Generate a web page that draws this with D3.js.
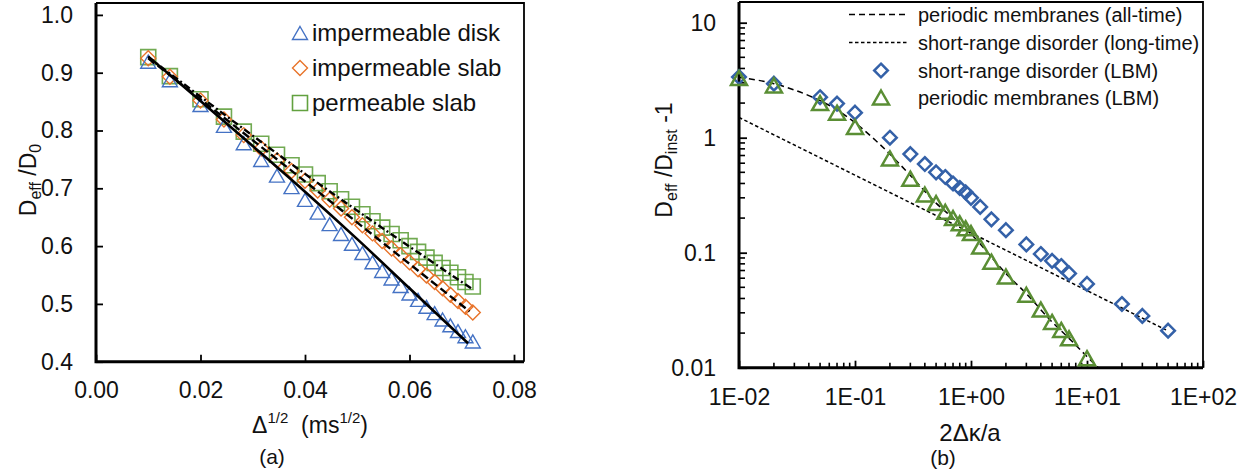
<!DOCTYPE html>
<html>
<head>
<meta charset="utf-8">
<script src="https://cdn.jsdelivr.net/npm/d3@7"></script>
<style>
  html, body { margin: 0; padding: 0; background: #fff; }
  svg { display: block; }
  text { font-family: "Liberation Sans", Arial, sans-serif; fill: #111; }
</style>
</head>
<body>
<svg id="chart" width="1255" height="473"></svg>
<script>
// ---------------- Panel (a) data ----------------
const sqrtDelta = [0.01, 0.01414, 0.02, 0.02449, 0.02828, 0.03162, 0.03464, 0.03742, 0.04,
  0.04243, 0.04472, 0.0469, 0.04899, 0.05099, 0.05292, 0.05477, 0.05657, 0.05831, 0.06,
  0.06164, 0.06325, 0.06481, 0.06633, 0.06782, 0.06928, 0.07071, 0.07211];
const diskY = [0.919, 0.887, 0.844, 0.808, 0.778, 0.749, 0.722, 0.702, 0.680,
  0.658, 0.638, 0.621, 0.604, 0.588, 0.572, 0.557, 0.544, 0.531, 0.518,
  0.507, 0.495, 0.484, 0.473, 0.463, 0.453, 0.444, 0.435];
const slabY = [0.925, 0.893, 0.852, 0.819, 0.792, 0.769, 0.748, 0.730, 0.713,
  0.696, 0.680, 0.665, 0.650, 0.636, 0.622, 0.609, 0.596, 0.584, 0.572,
  0.560, 0.549, 0.538, 0.527, 0.516, 0.505, 0.495, 0.485];
const permY = [0.927, 0.894, 0.854, 0.824, 0.798, 0.777, 0.758, 0.740, 0.724,
  0.709, 0.695, 0.681, 0.668, 0.655, 0.643, 0.632, 0.621, 0.610, 0.600,
  0.590, 0.580, 0.571, 0.562, 0.554, 0.546, 0.538, 0.530];
// model curves (a)
const diskFitX = [0.01, 0.02, 0.03, 0.04, 0.05, 0.06, 0.0712];
const diskFitY = [0.928, 0.851, 0.773, 0.694, 0.612, 0.527, 0.432];
const slabFitX = [0.01, 0.04, 0.0715];
const slabFitY = [0.925, 0.712, 0.487];
const permFitX = [0.01, 0.04, 0.0718];
const permFitY = [0.927, 0.725, 0.527];
const xTicksA = [0, 0.02, 0.04, 0.06, 0.08];
const yTicksA = [0.4, 0.5, 0.6, 0.7, 0.8, 0.9, 1.0];
const legendA = ["impermeable disk", "impermeable slab", "permeable slab"];

// ---------------- Panel (b) data ----------------
const srdX = [0.01, 0.02, 0.05, 0.07, 0.1, 0.2, 0.3, 0.4, 0.5, 0.6, 0.7, 0.8, 0.9, 1.0, 1.2, 1.5,
  2, 3, 4, 5, 6, 7, 10, 20, 30, 50];
const srdY = [3.37, 2.95, 2.25, 1.98, 1.65, 1.0, 0.72, 0.59, 0.50, 0.455, 0.40, 0.365, 0.335, 0.30,
  0.25, 0.195, 0.157, 0.118, 0.0975, 0.085, 0.0766, 0.066, 0.0535, 0.0358, 0.0282, 0.021];
const pmX = [0.01, 0.02, 0.05, 0.07, 0.1, 0.2, 0.3, 0.4, 0.5, 0.6, 0.7, 0.8, 0.9, 1.0, 1.2, 1.5,
  2, 3, 4, 5, 6, 7, 10];
const pmY = [3.3, 2.85, 2.0, 1.65, 1.24, 0.66, 0.44, 0.32, 0.27, 0.227, 0.2, 0.18, 0.163, 0.148,
  0.113, 0.0835, 0.062, 0.043, 0.032, 0.025, 0.0213, 0.018, 0.0121];
const pmCurveX = [0.01, 0.02, 0.03, 0.05, 0.07, 0.1, 0.15, 0.2, 0.3, 0.5, 0.7, 1, 2, 3, 5, 7, 10, 12.5];
const pmCurveY = [3.35, 2.95, 2.6, 2.1, 1.75, 1.35, 0.95, 0.72, 0.47, 0.27, 0.2, 0.145, 0.066, 0.044,
  0.025, 0.018, 0.0125, 0.01];
const srCurveX = [0.01, 48];
const srCurveY = [1.5, 0.0213];
const xTicksB = [0.01, 0.1, 1, 10, 100];
const xTickLabelsB = ["1E-02", "1E-01", "1E+00", "1E+01", "1E+02"];
const yTicksB = [0.01, 0.1, 1, 10];
const yTickLabelsB = ["0.01", "0.1", "1", "10"];
const legendB = ["periodic membranes (all-time)", "short-range disorder (long-time)",
  "short-range disorder (LBM)", "periodic membranes (LBM)"];

const svg = d3.select("#chart");
svg.append("rect").attr("width", 1255).attr("height", 473).attr("fill", "#fff");

function triPath(w, h) { return `M0,${-h/2}L${w/2},${h/2}L${-w/2},${h/2}Z`; }
function diaPath(s) { return `M0,${-s}L${s},0L0,${s}L${-s},0Z`; }
function sqPath(s) { return `M${-s},${-s}H${s}V${s}H${-s}Z`; }

// ================= Panel (a) =================
const A = { l: 96, r: 524, t: 3, b: 361.7 };
const xA = d3.scaleLinear().domain([0, 0.08]).range([96, 514]);
const yA = d3.scaleLinear().domain([0.4, 1.0]).range([361.7, 14.9]);
const gA = svg.append("g");

const axA_y = gA.append("g").attr("transform", `translate(${A.l},0)`)
  .call(d3.axisLeft(yA).tickValues(yTicksA).tickFormat(d3.format(".1f"))
    .tickSizeInner(-7).tickSizeOuter(0).tickPadding(23));
const axA_x = gA.append("g").attr("transform", `translate(0,${A.b})`)
  .call(d3.axisBottom(xA).tickValues(xTicksA).tickFormat(d3.format(".2f"))
    .tickSizeInner(-7).tickSizeOuter(0).tickPadding(20));
[axA_y, axA_x].forEach(g => {
  g.select(".domain").remove();
  g.selectAll(".tick line").attr("stroke", "#000").attr("stroke-width", 1.8);
  g.selectAll(".tick text").attr("font-size", 23).attr("fill", "#111")
    .attr("font-family", "Liberation Sans, Arial, sans-serif");
});
// frame
gA.append("path").attr("d", `M${A.l},${A.t}H${A.r}V${A.b}`).attr("fill", "none")
  .attr("stroke", "#000").attr("stroke-width", 1.8);
gA.append("path").attr("d", `M${A.l},${A.t}V${A.b}H${A.r}`).attr("fill", "none")
  .attr("stroke", "#000").attr("stroke-width", 3);

// markers (a)
const colDisk = "#4472C4", colSlab = "#E8732A", colPerm = "#62A13F";
gA.append("g").selectAll("path").data(sqrtDelta.map((x, i) => [x, permY[i]])).join("path")
  .attr("d", sqPath(7.5)).attr("transform", d => `translate(${xA(d[0])},${yA(d[1])})`)
  .attr("fill", "none").attr("stroke", colPerm).attr("stroke-width", 1.6).attr("stroke-opacity", 0.9);
gA.append("g").selectAll("path").data(sqrtDelta.map((x, i) => [x, slabY[i]])).join("path")
  .attr("d", diaPath(7.5)).attr("transform", d => `translate(${xA(d[0])},${yA(d[1])})`)
  .attr("fill", "none").attr("stroke", colSlab).attr("stroke-width", 1.4);
gA.append("g").selectAll("path").data(sqrtDelta.map((x, i) => [x, diskY[i]])).join("path")
  .attr("d", triPath(15, 13)).attr("transform", d => `translate(${xA(d[0])},${yA(d[1])})`)
  .attr("fill", "none").attr("stroke", colDisk).attr("stroke-width", 1.4);

// model lines (a)
const lineA = d3.line().x(d => xA(d[0])).y(d => yA(d[1])).curve(d3.curveMonotoneX);
gA.append("path").datum(diskFitX.map((x, i) => [x, diskFitY[i]])).attr("d", lineA)
  .attr("fill", "none").attr("stroke", "#000").attr("stroke-width", 2.6);
gA.append("path").datum(slabFitX.map((x, i) => [x, slabFitY[i]])).attr("d", lineA)
  .attr("fill", "none").attr("stroke", "#000").attr("stroke-width", 2.4).attr("stroke-dasharray", "8,4");
gA.append("path").datum(permFitX.map((x, i) => [x, permFitY[i]])).attr("d", lineA)
  .attr("fill", "none").attr("stroke", "#000").attr("stroke-width", 2.4).attr("stroke-dasharray", "7,3,2,3");

// legend (a)
const legA = gA.append("g");
const legAY = [33, 68, 103];
legA.append("path").attr("d", triPath(15, 13)).attr("transform", `translate(300,${legAY[0]})`)
  .attr("fill", "none").attr("stroke", colDisk).attr("stroke-width", 1.4);
legA.append("path").attr("d", diaPath(7.5)).attr("transform", `translate(300,${legAY[1]})`)
  .attr("fill", "none").attr("stroke", colSlab).attr("stroke-width", 1.4);
legA.append("path").attr("d", sqPath(7.5)).attr("transform", `translate(300,${legAY[2]})`)
  .attr("fill", "none").attr("stroke", colPerm).attr("stroke-width", 1.6);
legA.selectAll("text").data(legendA).join("text")
  .attr("x", 312).attr("y", (d, i) => legAY[i] + 8).attr("font-size", 24).text(d => d);

// axis titles (a)
const ytA = gA.append("text").attr("transform", "translate(36,180) rotate(-90)")
  .attr("text-anchor", "middle").attr("font-size", 23);
ytA.append("tspan").text("D");
ytA.append("tspan").attr("font-size", 16).attr("dy", 5).text("eff");
ytA.append("tspan").attr("dy", -5).text(" /D");
ytA.append("tspan").attr("font-size", 16).attr("dy", 5).text("0");

const xtA = gA.append("text").attr("x", 310).attr("y", 433).attr("text-anchor", "middle").attr("font-size", 23);
xtA.append("tspan").text("Δ");
xtA.append("tspan").attr("font-size", 15).attr("dy", -10).text("1/2");
xtA.append("tspan").attr("dy", 10).text("\u00a0 (ms");
xtA.append("tspan").attr("font-size", 15).attr("dy", -10).text("1/2");
xtA.append("tspan").attr("dy", 10).text(")");

gA.append("text").attr("x", 272).attr("y", 464).attr("text-anchor", "middle")
  .attr("font-family", "DejaVu Serif, serif").attr("font-size", 21).text("(a)");

// ================= Panel (b) =================
const B = { l: 739, r: 1203, t: 2, b: 367.7 };
const xB = d3.scaleLog().domain([0.01, 100]).range([739, 1203]);
const yB = d3.scaleLog().domain([0.01, 10]).range([367.7, 22.7]);
const gB = svg.append("g");

// minor ticks
const minorX = [], minorY = [];
[0.01, 0.1, 1, 10].forEach(dec => { for (let k = 2; k <= 9; k++) minorX.push(dec * k); });
[0.01, 0.1, 1].forEach(dec => { for (let k = 2; k <= 9; k++) minorY.push(dec * k); });
gB.append("g").selectAll("line").data(minorX).join("line")
  .attr("x1", d => xB(d)).attr("x2", d => xB(d)).attr("y1", B.b).attr("y2", B.b - 5)
  .attr("stroke", "#000").attr("stroke-width", 1.6);
gB.append("g").selectAll("line").data(minorY).join("line")
  .attr("y1", d => yB(d)).attr("y2", d => yB(d)).attr("x1", B.l).attr("x2", B.l + 6)
  .attr("stroke", "#000").attr("stroke-width", 1.6);

const axB_y = gB.append("g").attr("transform", `translate(${B.l},0)`)
  .call(d3.axisLeft(yB).tickValues(yTicksB).tickFormat((d, i) => yTickLabelsB[i])
    .tickSizeInner(-8).tickSizeOuter(0).tickPadding(23));
const axB_x = gB.append("g").attr("transform", `translate(0,${B.b})`)
  .call(d3.axisBottom(xB).tickValues(xTicksB).tickFormat((d, i) => xTickLabelsB[i])
    .tickSizeInner(-7).tickSizeOuter(0).tickPadding(21));
[axB_y, axB_x].forEach(g => {
  g.select(".domain").remove();
  g.selectAll(".tick line").attr("stroke", "#000").attr("stroke-width", 1.8);
  g.selectAll(".tick text").attr("font-size", 23).attr("fill", "#111")
    .attr("font-family", "Liberation Sans, Arial, sans-serif");
});
gB.append("path").attr("d", `M${B.l},${B.t}H${B.r}V${B.b}`).attr("fill", "none")
  .attr("stroke", "#000").attr("stroke-width", 1.8);
gB.append("path").attr("d", `M${B.l},${B.t}V${B.b}H${B.r}`).attr("fill", "none")
  .attr("stroke", "#000").attr("stroke-width", 3);

svg.append("clipPath").attr("id", "clipB").append("rect")
  .attr("x", B.l).attr("y", B.t).attr("width", B.r - B.l).attr("height", B.b - B.t);

const lineB = d3.line().x(d => xB(d[0])).y(d => yB(d[1])).curve(d3.curveMonotoneX);
const plotB = gB.append("g").attr("clip-path", "url(#clipB)");
plotB.append("path").datum(pmCurveX.map((x, i) => [x, pmCurveY[i]])).attr("d", lineB)
  .attr("fill", "none").attr("stroke", "#000").attr("stroke-width", 1.5).attr("stroke-dasharray", "6,4");
plotB.append("path").datum(srCurveX.map((x, i) => [x, srCurveY[i]])).attr("d", lineB)
  .attr("fill", "none").attr("stroke", "#000").attr("stroke-width", 1.5).attr("stroke-dasharray", "3.5,2.5");

const colSrd = "#3461A8", colPm = "#5A8E34";
gB.append("g").selectAll("path").data(srdX.map((x, i) => [x, srdY[i]])).join("path")
  .attr("d", diaPath(6.8)).attr("transform", d => `translate(${xB(d[0])},${yB(d[1])})`)
  .attr("fill", "none").attr("stroke", colSrd).attr("stroke-width", 2.5);
gB.append("g").selectAll("path").data(pmX.map((x, i) => [x, pmY[i]])).join("path")
  .attr("d", triPath(16, 14)).attr("transform", d => `translate(${xB(d[0])},${yB(d[1])})`)
  .attr("fill", "none").attr("stroke", colPm).attr("stroke-width", 2.5);

// legend (b)
const legB = gB.append("g");
const legBY = [14.5, 42.5, 70.5, 97.5];
legB.append("line").attr("x1", 849).attr("x2", 908).attr("y1", legBY[0]).attr("y2", legBY[0])
  .attr("stroke", "#000").attr("stroke-width", 1.5).attr("stroke-dasharray", "6,4");
legB.append("line").attr("x1", 849).attr("x2", 908).attr("y1", legBY[1]).attr("y2", legBY[1])
  .attr("stroke", "#000").attr("stroke-width", 1.5).attr("stroke-dasharray", "3.5,2.5");
legB.append("path").attr("d", diaPath(6.8)).attr("transform", `translate(881,${legBY[2]})`)
  .attr("fill", "none").attr("stroke", colSrd).attr("stroke-width", 2.5);
legB.append("path").attr("d", triPath(16, 14)).attr("transform", `translate(881,${legBY[3]})`)
  .attr("fill", "none").attr("stroke", colPm).attr("stroke-width", 2.5);
legB.selectAll("text").data(legendB).join("text")
  .attr("x", 918).attr("y", (d, i) => legBY[i] + 7).attr("font-size", 20).text(d => d);

// axis titles (b)
const ytB = gB.append("text").attr("transform", "translate(672,160) rotate(-90)")
  .attr("text-anchor", "middle").attr("font-size", 23);
ytB.append("tspan").text("D");
ytB.append("tspan").attr("font-size", 16).attr("dy", 5).text("eff");
ytB.append("tspan").attr("dy", -5).text(" /D");
ytB.append("tspan").attr("font-size", 16).attr("dy", 5).text("inst");
ytB.append("tspan").attr("dy", -5).text(" -1");

gB.append("text").attr("x", 970).attr("y", 441).attr("text-anchor", "middle")
  .attr("font-size", 24).text("2Δκ/a");
gB.append("text").attr("x", 943).attr("y", 465).attr("text-anchor", "middle")
  .attr("font-family", "DejaVu Serif, serif").attr("font-size", 21).text("(b)");
</script>
</body>
</html>
